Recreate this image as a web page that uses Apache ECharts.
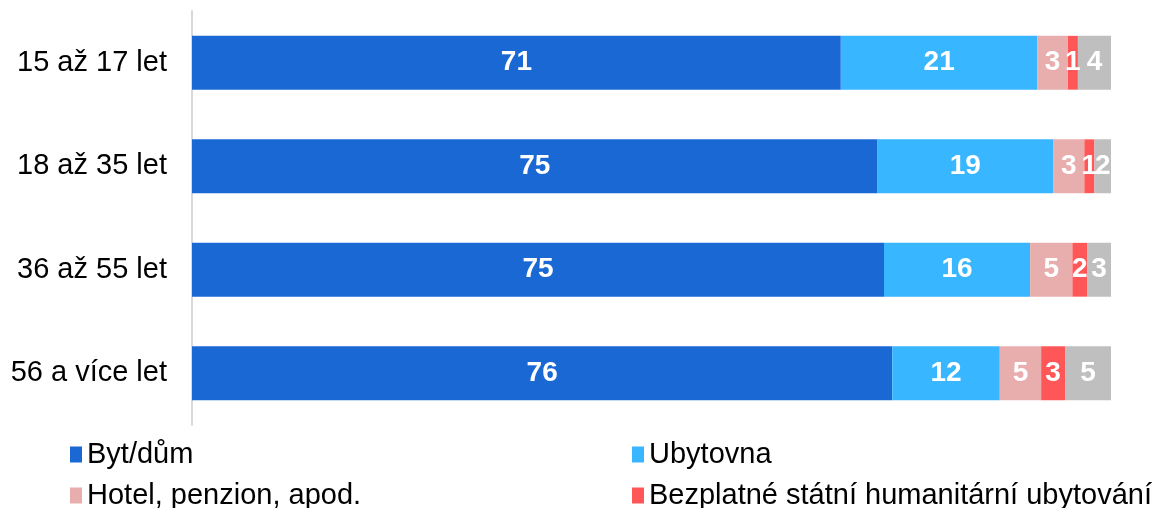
<!DOCTYPE html>
<html>
<head>
<meta charset="utf-8">
<script src="https://cdn.jsdelivr.net/npm/echarts@6/dist/echarts.min.js"></script>
<style>
  html, body { margin: 0; padding: 0; background: #fff; }
  #chart { width: 1169px; height: 508px; }
</style>
</head>
<body>
<div id="chart"></div>
<script>
// categories (top to bottom)
const categories = ['15 až 17 let', '18 až 35 let', '36 až 55 let', '56 a více let'];

const names = ['Byt/dům', 'Ubytovna', 'Hotel, penzion, apod.', 'Bezplatné státní humanitární ubytování', 'Jiné'];
const colors = ['#1A68D4', '#38B6FF', '#E8AEAE', '#FF5757', '#BFBFBF'];

// shares in %
const bytDum = [70.6, 74.6, 75.3, 76.2];
const ubytovna = [21.4, 19.1, 15.9, 11.7];
const hotel = [3.3, 3.4, 4.6, 4.5];
const bezplatne = [1.1, 1.1, 1.6, 2.6];
const jine = [3.6, 1.8, 2.6, 5.0];

const seriesData = [bytDum, ubytovna, hotel, bezplatne, jine];

const chart = echarts.init(document.getElementById('chart'));

const font = 'Liberation Sans, Arial, sans-serif';

var series = seriesData.map(function (d, i) {
    return {
        name: names[i],
        type: 'bar',
        stack: 'total',
        barWidth: '52%',
        data: d,
        itemStyle: {
            color: colors[i]
        },
        label: {
            show: true,
            position: 'inside',
            color: '#fff',
            fontWeight: 'bold',
            fontSize: 28,
            fontFamily: font,
            formatter: function (p) {
                return Math.round(p.value);
            }
        }
    };
});

// legend positions (two columns, fifth item falls outside picture)
const legendPos = [[70, 440], [632, 440], [70, 481], [632, 481]];

var option = {
    animation: false,
    grid: {
        left: 192,
        right: 58,
        top: 11,
        bottom: 83
    },
    legend: legendPos.map(function (p, i) {
        return {
            data: [names[i]],
            left: p[0],
            top: p[1],
            padding: 0,
            itemWidth: 12,
            itemHeight: 16,
            itemGap: 0,
            icon: 'rect',
            textStyle: {
                fontSize: 29,
                fontFamily: font,
                color: '#000',
                padding: [0, 0, 0, 0]
            }
        };
    }),
    xAxis: {
        type: 'value',
        min: 0,
        max: 100,
        show: false
    },
    yAxis: {
        type: 'category',
        inverse: true,
        data: categories,
        axisLine: {
            show: true,
            lineStyle: { color: '#D9D9D9', width: 2 }
        },
        axisTick: { show: false },
        axisLabel: {
            fontSize: 29,
            fontFamily: font,
            color: '#000',
            margin: 25
        }
    },
    series: series
};

chart.setOption(option);
</script>
</body>
</html>
